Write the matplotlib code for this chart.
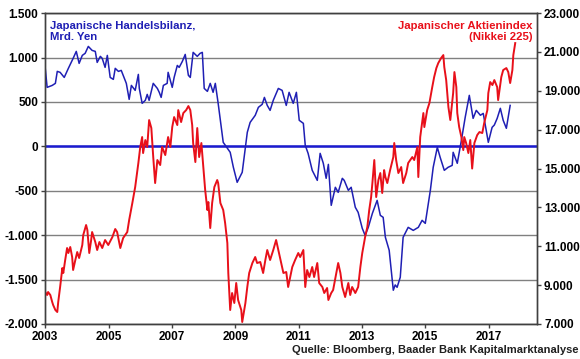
import matplotlib

matplotlib.use("Agg")
import matplotlib.pyplot as plt
from matplotlib.ticker import FuncFormatter

plt.rcParams["font.family"] = ["Liberation Sans", "DejaVu Sans"]
plt.rcParams["font.weight"] = "bold"

# Japanische Handelsbilanz (Mrd. Yen)
trade_years = [
    2003.00, 2003.06, 2003.22, 2003.32, 2003.38, 2003.47, 2003.60, 2003.73, 2003.88, 2003.98,
    2004.07, 2004.17, 2004.26, 2004.36, 2004.48, 2004.58, 2004.64, 2004.74, 2004.80, 2004.89,
    2004.96, 2005.05, 2005.15, 2005.21, 2005.31, 2005.40, 2005.46, 2005.56, 2005.65, 2005.72,
    2005.84, 2005.94, 2005.97, 2006.06, 2006.16, 2006.22, 2006.28, 2006.41, 2006.54, 2006.60,
    2006.66, 2006.73, 2006.85, 2006.88, 2007.01, 2007.07, 2007.17, 2007.23, 2007.33, 2007.42,
    2007.52, 2007.58, 2007.67, 2007.80, 2007.89, 2007.96, 2008.02, 2008.12, 2008.21, 2008.30,
    2008.37, 2008.46, 2008.62, 2008.75, 2008.84, 2008.94, 2009.06, 2009.22, 2009.32, 2009.38,
    2009.47, 2009.63, 2009.73, 2009.85, 2009.92, 2010.01, 2010.10, 2010.20, 2010.36, 2010.48,
    2010.61, 2010.70, 2010.83, 2010.93, 2011.02, 2011.15, 2011.21, 2011.30, 2011.43, 2011.59,
    2011.68, 2011.78, 2011.87, 2011.94, 2012.03, 2012.16, 2012.25, 2012.38, 2012.44, 2012.57,
    2012.66, 2012.79, 2012.88, 2013.01, 2013.10, 2013.20, 2013.33, 2013.48, 2013.58, 2013.67,
    2013.74, 2013.86, 2013.99, 2014.05, 2014.11, 2014.21, 2014.30, 2014.46, 2014.62, 2014.78,
    2014.90, 2015.00, 2015.16, 2015.25, 2015.38, 2015.47, 2015.60, 2015.72, 2015.85, 2015.88,
    2016.01, 2016.14, 2016.26, 2016.39, 2016.51, 2016.61, 2016.74, 2016.83, 2016.99, 2017.11,
    2017.18, 2017.27, 2017.37, 2017.46, 2017.56, 2017.68,
]
trade_balance = [
    878, 664, 686, 709, 844, 833, 776, 878, 990, 1069,
    934, 1024, 1047, 1125, 1080, 1069, 945, 1013, 990, 889,
    1024, 776, 754, 878, 844, 855, 799, 709, 529, 686,
    630, 810, 652, 484, 518, 585, 518, 709, 652, 608,
    551, 686, 709, 833, 664, 776, 911, 889, 957, 1035,
    799, 776, 1058, 1013, 1047, 1058, 652, 619, 709, 608,
    709, 484, 45, -22, -67, -236, -405, -292, -11, 158,
    270, 349, 439, 473, 551, 461, 405, 518, 652, 630,
    461, 608, 484, 608, 293, 259, 11, -79, -270, -383,
    -79, -191, -360, -203, -664, -461, -518, -360, -383, -495,
    -461, -686, -743, -923, -1002, -912, -754, -608, -777, -799,
    -1024, -1170, -1620, -1560, -1587, -1474, -1024, -912, -946, -912,
    -833, -867, -495, -236, -11, -124, -270, -236, -214, -67,
    -191, 68, 326, 574, 315, 405, 350, 371, 45, 214,
    240, 315, 428, 293, 203, 461,
]

# Japanischer Aktienindex (Nikkei 225)
nikkei_years = [
    2003.00, 2003.06, 2003.09, 2003.16, 2003.22, 2003.25, 2003.32, 2003.38, 2003.41, 2003.47,
    2003.54, 2003.57, 2003.63, 2003.69, 2003.73, 2003.79, 2003.85, 2003.88, 2003.95, 2004.01,
    2004.07, 2004.17, 2004.20, 2004.29, 2004.33, 2004.39, 2004.45, 2004.48, 2004.58, 2004.64,
    2004.71, 2004.80, 2004.89, 2004.99, 2005.12, 2005.21, 2005.27, 2005.37, 2005.46, 2005.59,
    2005.65, 2005.75, 2005.84, 2005.94, 2006.00, 2006.06, 2006.09, 2006.16, 2006.22, 2006.28,
    2006.35, 2006.41, 2006.47, 2006.54, 2006.63, 2006.69, 2006.79, 2006.88, 2006.95, 2007.01,
    2007.07, 2007.17, 2007.20, 2007.29, 2007.36, 2007.45, 2007.52, 2007.58, 2007.64, 2007.67,
    2007.74, 2007.80, 2007.86, 2007.93, 2007.99, 2008.05, 2008.12, 2008.15, 2008.21, 2008.27,
    2008.34, 2008.43, 2008.46, 2008.53, 2008.62, 2008.68, 2008.75, 2008.78, 2008.84, 2008.90,
    2008.97, 2009.03, 2009.09, 2009.19, 2009.22, 2009.32, 2009.38, 2009.44, 2009.54, 2009.63,
    2009.69, 2009.79, 2009.88, 2009.95, 2010.01, 2010.10, 2010.20, 2010.29, 2010.36, 2010.45,
    2010.52, 2010.61, 2010.67, 2010.80, 2010.89, 2010.99, 2011.05, 2011.15, 2011.21, 2011.27,
    2011.34, 2011.43, 2011.49, 2011.59, 2011.65, 2011.75, 2011.81, 2011.90, 2011.94, 2012.03,
    2012.09, 2012.19, 2012.25, 2012.32, 2012.38, 2012.47, 2012.57, 2012.63, 2012.69, 2012.79,
    2012.88, 2012.95, 2013.01, 2013.10, 2013.17, 2013.23, 2013.29, 2013.33, 2013.39, 2013.45,
    2013.52, 2013.58, 2013.64, 2013.70, 2013.74, 2013.80, 2013.89, 2013.99, 2014.02, 2014.08,
    2014.15, 2014.24, 2014.30, 2014.40, 2014.46, 2014.59, 2014.65, 2014.75, 2014.78, 2014.84,
    2014.94, 2014.97, 2015.06, 2015.13, 2015.22, 2015.28, 2015.35, 2015.41, 2015.50, 2015.57,
    2015.60, 2015.66, 2015.73, 2015.79, 2015.88, 2015.92, 2015.98, 2016.01, 2016.07, 2016.14,
    2016.20, 2016.23, 2016.29, 2016.36, 2016.42, 2016.48, 2016.55, 2016.64, 2016.71, 2016.80,
    2016.86, 2016.96, 2016.99, 2017.05, 2017.12, 2017.18, 2017.27, 2017.30, 2017.40, 2017.46,
    2017.56, 2017.62, 2017.68, 2017.75, 2017.78, 2017.84,
]
nikkei = [
    8646, 8492, 8646, 8492, 8132, 7977, 7720, 7617, 8132, 8904,
    9881, 9624, 10293, 10910, 10653, 10962, 10447, 9778, 10293, 10704,
    10396, 11065, 11579, 12094, 11836, 10653, 11322, 11733, 11219, 10807,
    11219, 10910, 11322, 11065, 11476, 11888, 11733, 10910, 11425, 11733,
    12351, 13226, 14049, 15284, 16107, 16621, 15798, 16467, 16107, 17496,
    17084, 15592, 14254, 15438, 15181, 16107, 15695, 16621, 16107, 17136,
    17650, 17239, 18010, 17393, 17856, 18010, 18216, 18010, 17239, 16313,
    15335, 17084, 15592, 16313, 15078, 13894, 12865, 13277, 11939, 13226,
    14049, 14409, 14254, 13226, 12865, 12197, 11167, 9624, 7720, 8595,
    8080, 9109, 8235, 7720, 7103, 8080, 8904, 9624, 10138, 10447,
    10138, 10190, 9624, 10293, 10807, 10293, 10807, 11322, 10807, 10138,
    9624, 9676, 8904, 9933, 10293, 10653, 10447, 10807, 8904, 9778,
    9418, 9933, 9418, 10138, 9109, 8904, 8595, 8852, 8235, 8595,
    8749, 9624, 10138, 9624, 8904, 8389, 9109, 8492, 8904, 8595,
    8904, 9933, 10653, 11476, 11990, 12865, 13534, 14254, 15438, 13534,
    14409, 14769, 13740, 14923, 14563, 14254, 14923, 15592, 16313, 15438,
    14769, 15078, 14254, 14769, 15284, 15592, 15438, 16107, 14563, 16621,
    17856, 17136, 18010, 18370, 19194, 19708, 20171, 20429, 20686, 20840,
    20223, 19554, 18164, 17496, 18884, 19965, 19194, 17856, 17136, 16621,
    15952, 16621, 16313, 15798, 16467, 15000, 16313, 16724, 16879, 16827,
    17342, 18010, 18884, 19451, 19297, 19554, 19194, 18524, 19708, 20069,
    20171, 19965, 19400, 20069, 20840, 21457,
]

year_ticks = list(range(2003, 2019, 2))
left_ticks = list(range(-2000, 1501, 500))
right_ticks = list(range(7000, 23001, 2000))

BLUE = "#1f1fb4"
RED = "#e8101a"


def de_thousands(v, pos):
    return f"{int(v):,}".replace(",", ".")


fig = plt.figure(figsize=(5.8, 3.59), dpi=100)
ax = fig.add_axes([0.078, 0.0975, 0.848, 0.866])
ax2 = ax.twinx()

ax.set_xlim(2003.0, 2018.53)
ax.set_ylim(-2000, 1500)
ax2.set_ylim(7000, 23000)

for t in left_ticks:
    ax.axhline(t, color="#808080", linewidth=1.0, zorder=1)
ax.axhline(0, color="#1a1ad0", linewidth=1.8, zorder=2)
ax.plot(trade_years, trade_balance, color=BLUE, linewidth=1.1, zorder=3)
ax2.plot(nikkei_years, nikkei, color=RED, linewidth=1.4)

ax.set_xticks(year_ticks)
ax.set_yticks(left_ticks)
ax2.set_yticks(right_ticks)
ax.yaxis.set_major_formatter(FuncFormatter(de_thousands))
ax2.yaxis.set_major_formatter(FuncFormatter(de_thousands))

for a in (ax, ax2):
    a.tick_params(axis="both", labelsize=8.5, length=3, width=1, color="#404040", pad=2)
    for side, sp in a.spines.items():
        sp.set_color("#404040")
        sp.set_linewidth(1.0)
for lbl in ax.get_xticklabels() + ax.get_yticklabels() + ax2.get_yticklabels():
    lbl.set_fontweight("bold")

ax.text(0.01, 0.975, "Japanische Handelsbilanz,\nMrd. Yen", transform=ax.transAxes,
        ha="left", va="top", color=BLUE, fontsize=8.2, fontweight="bold", linespacing=1.2)
ax.text(0.99, 0.975, "Japanischer Aktienindex\n(Nikkei 225)", transform=ax.transAxes,
        ha="right", va="top", color=RED, fontsize=8.2, fontweight="bold", linespacing=1.2,
        multialignment="right")
fig.text(0.997, 0.012, "Quelle: Bloomberg, Baader Bank Kapitalmarktanalyse",
         ha="right", va="bottom", fontsize=8.0, fontweight="bold", color="#202020")

fig.savefig("out.png", dpi=100)
